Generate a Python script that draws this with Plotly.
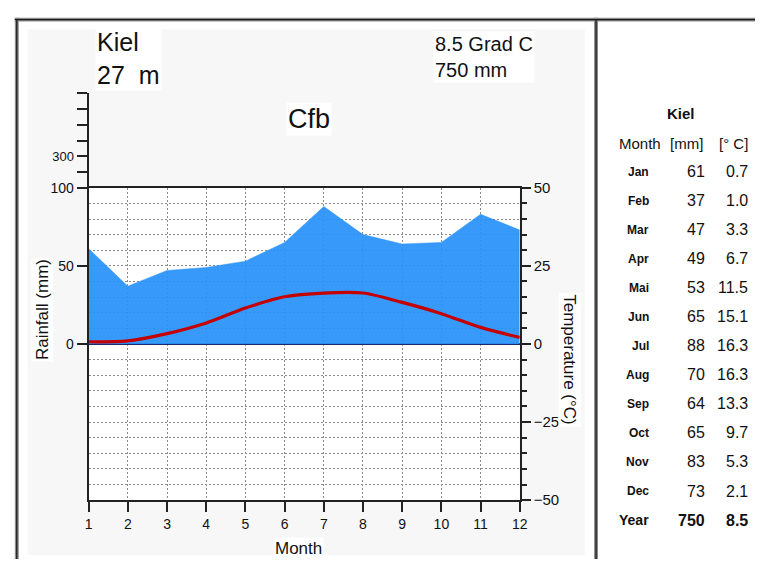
import plotly.graph_objects as go

W, H = 763, 567


def px(x):
    return x / W


def py(y):
    return 1 - y / H


# ---------------- data ----------------
months = list(range(1, 13))
month_names = ["Jan", "Feb", "Mar", "Apr", "Mai", "Jun", "Jul", "Aug", "Sep", "Oct", "Nov", "Dec"]
rain_mm = [61, 37, 47, 49, 53, 65, 88, 70, 64, 65, 83, 73]
temp_c = [0.7, 1.0, 3.3, 6.7, 11.5, 15.1, 16.3, 16.3, 13.3, 9.7, 5.3, 2.1]
station = "Kiel"
elevation = "27  m"
annual_temp = "8.5"
annual_rain = "750"
climate_class = "Cfb"
rain_tickvals = [0, 50, 100]
temp_tickvals = [-50, -25, 0, 25, 50]
temp_ticktext = ["\u221250", "\u221225", "0", "25", "50"]
ext_tickvals = [200, 300, 400, 500, 600, 700]
ext_ticktext = ["", "300", "", "", "", ""]

FONT = "Liberation Sans, Arial, sans-serif"
AX = "#222222"
GRID = "#8a8a8a"

fig = go.Figure()

fig.add_trace(go.Scatter(
    x=months, y=rain_mm, mode="lines", fill="tozeroy",
    fillcolor="rgba(40,145,250,0.93)", line=dict(color="rgba(40,145,250,0.9)", width=0.5),
    xaxis="x", yaxis="y", showlegend=False, hoverinfo="skip"))

fig.add_trace(go.Scatter(
    x=months, y=temp_c, mode="lines",
    line=dict(color="#c40000", width=3.2, shape="spline", smoothing=0.8),
    xaxis="x", yaxis="y2", showlegend=False))

fig.add_trace(go.Scatter(x=[], y=[], xaxis="x2", yaxis="y3", showlegend=False))

x_dom = [px(86), px(524)]
y_dom = [py(506.3), py(184.3)]

fig.update_layout(
    width=W, height=H,
    autosize=False,
    margin=dict(l=0, r=0, t=0, b=0),
    paper_bgcolor="white",
    plot_bgcolor="rgba(0,0,0,0)",
    font=dict(family=FONT, color="#111"),
    xaxis=dict(
        domain=x_dom, range=[1, 12], anchor="y",
        tickvals=months, ticks="outside", ticklen=10, tickwidth=2, tickcolor=AX,
        showline=True, linecolor=AX, linewidth=2, mirror=True,
        showgrid=True, gridcolor=GRID, gridwidth=1, griddash="2px,2px",
        zeroline=False, tickfont=dict(size=14), fixedrange=True),
    yaxis=dict(
        domain=y_dom, range=[-100, 100], anchor="x",
        tickvals=rain_tickvals, ticks="outside", ticklen=10, tickwidth=2, tickcolor=AX,
        showline=True, linecolor=AX, linewidth=2,
        showgrid=True, gridcolor=GRID, gridwidth=1, griddash="2px,2px",
        minor=dict(tickmode="linear", tick0=0, dtick=10, showgrid=True,
                   gridcolor=GRID, gridwidth=1, griddash="2px,2px", ticks=""),
        zeroline=True, zerolinecolor="#1b2a6b", zerolinewidth=2,
        tickfont=dict(size=14)),
    yaxis2=dict(
        overlaying="y", side="right", anchor="x", range=[-50, 50],
        tickvals=temp_tickvals, ticktext=temp_ticktext,
        ticks="outside", ticklen=9, tickwidth=2, tickcolor=AX,
        minor=dict(tickmode="linear", tick0=0, dtick=5, ticks="outside",
                   ticklen=5, tickwidth=2, tickcolor=AX, showgrid=False),
        showline=True, linecolor=AX, linewidth=2,
        showgrid=False, zeroline=False, tickfont=dict(size=15)),
    xaxis2=dict(domain=x_dom, range=[1, 12], anchor="y3", visible=False),
    yaxis3=dict(
        domain=[py(184.3), py(87)], range=[100, 700], anchor="x2", side="left",
        tickvals=ext_tickvals, ticktext=ext_ticktext,
        ticks="outside", ticklen=10, tickwidth=2, tickcolor=AX,
        showline=True, linecolor=AX, linewidth=2,
        showgrid=False, zeroline=False, tickfont=dict(size=13)),
)

# ---------------- frame / panels ----------------
shapes = []
shapes.append(dict(type="rect", xref="paper", yref="paper", layer="below",
                   x0=px(24), x1=px(590), y0=py(563), y1=py(21),
                   fillcolor="#f7f7f7", line=dict(width=0)))
shapes.append(dict(type="rect", xref="paper", yref="paper", layer="below",
                   x0=x_dom[0], x1=x_dom[1], y0=y_dom[0], y1=y_dom[1],
                   fillcolor="white", line=dict(width=0)))
for (x0, x1, y0, y1) in [(11, 763, 9, 13), (11, 15, 9, 567), (599.5, 603.5, 9, 567)]:
    shapes.append(dict(type="rect", xref="paper", yref="paper", layer="above",
                       x0=px(x0), x1=px(x1), y0=py(y1), y1=py(y0),
                       fillcolor="#8c8c8c", line=dict(width=0)))
shapes.append(dict(type="line", xref="paper", yref="paper", x0=px(11), x1=px(763),
                   y0=py(11), y1=py(11), line=dict(color="#1a1a1a", width=1.3)))
shapes.append(dict(type="line", xref="paper", yref="paper", x0=px(13), x1=px(13),
                   y0=py(11), y1=py(567), line=dict(color="#1a1a1a", width=1.3)))
shapes.append(dict(type="line", xref="paper", yref="paper", x0=px(601.5), x1=px(601.5),
                   y0=py(11), y1=py(567), line=dict(color="#1a1a1a", width=1.3)))
fig.update_layout(shapes=shapes)

# ---------------- texts ----------------
ann = []


def text(t, x, y, size, xanchor="left", angle=0, bg=None, yanchor="middle", align="left"):
    d = dict(text=t, x=px(x), y=py(y), xref="paper", yref="paper",
             xanchor=xanchor, yanchor=yanchor, showarrow=False, textangle=angle,
             align=align, font=dict(family=FONT, size=size, color="#111"))
    if bg:
        d["bgcolor"] = bg
    ann.append(d)


text(station + "<br>" + elevation, 92, 51, 25, bg="white")
text(annual_temp + " Grad C<br>" + annual_rain + " mm", 436, 49, 20, bg="white")
text(climate_class, 310, 113, 27, xanchor="center", bg="white")
text("Rainfall (mm)", 39, 310, 17, xanchor="center", angle=-90, bg="white")
text("Temperature (°C)", 575, 362, 17, xanchor="center", angle=90, bg="white")
text("Month", 299, 556, 17, xanchor="center", bg="white")

# table
RC = 758
text("<b>" + station + "</b>", 688, 108, 15, xanchor="center")
text("Month", 670, 139, 15, xanchor="right")
text("[mm]", 712, 139, 15, xanchor="right")
text("[° C]", RC, 139, 15, xanchor="right")
row0, row_step = 168, 29.9
for i, name in enumerate(month_names):
    yy = row0 + i * row_step
    text("<b>" + name + "</b>", 657, yy, 12, xanchor="right")
    text(str(rain_mm[i]), 714, yy, 16, xanchor="right")
    text(f"{temp_c[i]:.1f}", RC, yy, 16, xanchor="right")
yy = row0 + 12 * row_step
text("<b>Year</b>", 657, yy, 14, xanchor="right")
text("<b>" + annual_rain + "</b>", 714, yy, 16, xanchor="right")
text("<b>" + annual_temp + "</b>", RC, yy, 16, xanchor="right")

fig.update_layout(annotations=ann)

fig.write_html(
    "out.html",
    config={"responsive": False, "displayModeBar": False},
    post_script="document.body.style.margin='0';document.body.style.overflow='hidden';",
)
